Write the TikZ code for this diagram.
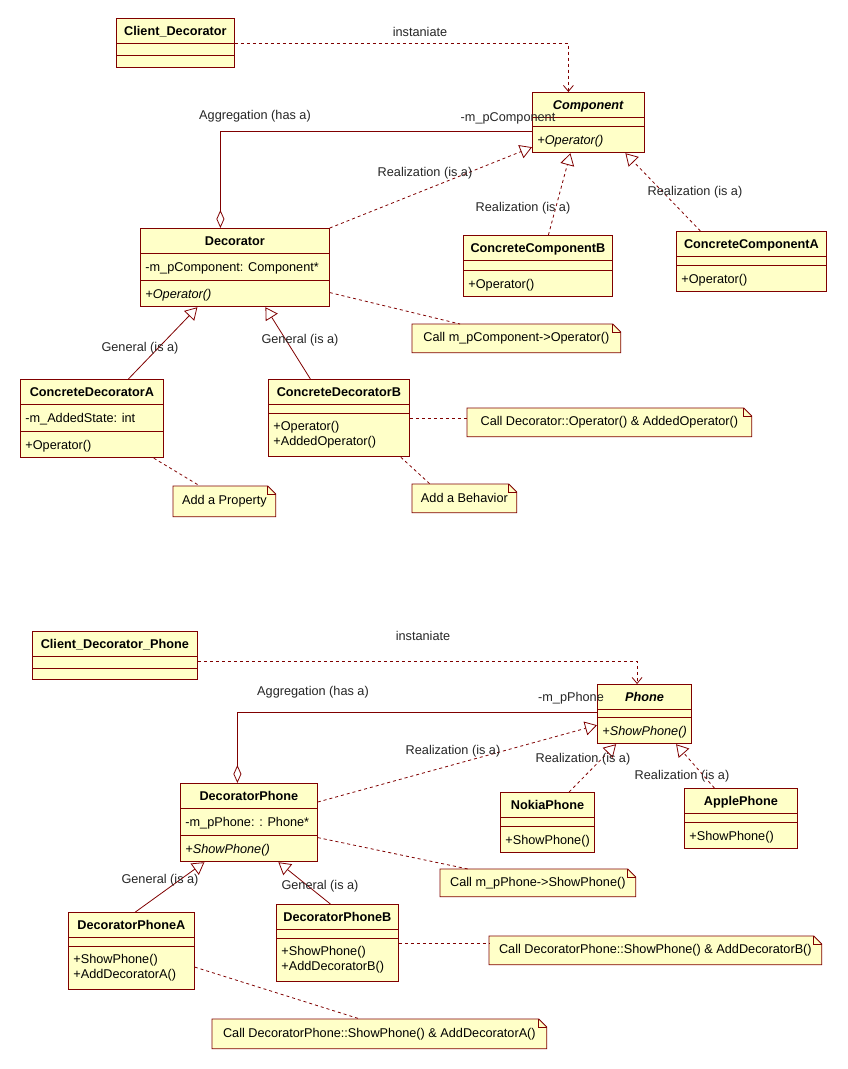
\documentclass[tikz,border=0pt]{standalone}
\usepackage{fontspec}
\setmainfont{Liberation Sans}
\usetikzlibrary{arrows.meta,shapes.multipart}

\definecolor{umlfill}{RGB}{255,255,200}
\definecolor{umlline}{RGB}{128,0,0}

% compartments of a class box
\newcommand{\cname}[1]{\rule[-7pt]{0pt}{24pt}\textbf{#1}}
\newcommand{\cempty}[1]{\rule{0pt}{#1}}
\newcommand{\cop}[1]{\rule[-8pt]{0pt}{26pt}#1}
\newcommand{\cops}[2]{\rule[-26pt]{0pt}{43pt}\begin{tabular}[t]{@{}l@{}}#1\\#2\end{tabular}}

\begin{document}
\begin{tikzpicture}[x=1pt, y=-1pt, line width=0.8pt, font=\fontsize{12.7}{15}\selectfont,
  umlclass/.style={rectangle split, rectangle split parts=3, draw=umlline, fill=umlfill,
    rectangle split part align={center,left,left}, inner xsep=5pt, inner ysep=0pt, anchor=north west},
  umlnote/.style={anchor=north west, inner xsep=5pt, inner ysep=0pt,
    append after command={\pgfextra{\begin{pgfinterruptpath}
      \draw[draw=umlline, fill=umlfill] (\tikzlastnode.north west) -- ([xshift=-8pt]\tikzlastnode.north east)
        -- ([yshift=-8pt]\tikzlastnode.north east) -- (\tikzlastnode.south east) -- (\tikzlastnode.south west) -- cycle;
      \draw[draw=umlline] ([xshift=-8pt]\tikzlastnode.north east) |- ([yshift=-8pt]\tikzlastnode.north east);
    \end{pgfinterruptpath}}}},
  lbl/.style={inner sep=1pt, text=black!85},
  link/.style={draw=umlline, dash pattern=on 3pt off 3pt},
  dep/.style={link, -{Straight Barb[length=6pt, width=10pt]}},
  real/.style={link, -{Triangle[open, length=12pt, width=14pt]}},
  gen/.style={draw=umlline, -{Triangle[open, length=12pt, width=14pt]}},
  agg/.style={draw=umlline, -{Diamond[open, length=18pt, width=8pt]}}]
\useasboundingbox[fill=white] (0,0) rectangle (847,1069);

%% Decorator pattern
\node[umlclass, minimum width=118pt] (cliDec) at (116,18) {\cname{Client\_Decorator}\nodepart{two}\cempty{11pt}\nodepart{three}\cempty{12pt}};
\node[umlclass, minimum width=112pt] (comp) at (532,92) {\cname{\textit{Component}}\nodepart{two}\cempty{8pt}\nodepart{three}\cop{\textit{+Operator()}}};
\node[umlclass, minimum width=189pt] (dec) at (140,228) {\cname{Decorator}\nodepart{two}\cop{-m\_pComponent: Component*}\nodepart{three}\cop{\textit{+Operator()}}};
\node[umlclass, minimum width=149pt] (ccB) at (463,235) {\cname{ConcreteComponentB}\nodepart{two}\cempty{9pt}\nodepart{three}\cop{+Operator()}};
\node[umlclass, minimum width=150pt] (ccA) at (676,231) {\cname{ConcreteComponentA}\nodepart{two}\cempty{8pt}\nodepart{three}\cop{+Operator()}};
\node[umlclass, minimum width=143pt] (cdA) at (20,379) {\cname{ConcreteDecoratorA}\nodepart{two}\cop{-m\_AddedState: int}\nodepart{three}\cop{+Operator()}};
\node[umlclass, minimum width=141pt] (cdB) at (268,379) {\cname{ConcreteDecoratorB}\nodepart{two}\cempty{8pt}\nodepart{three}\cops{+Operator()}{+AddedOperator()}};

\node[umlnote, minimum width=208pt, minimum height=28pt] (n1) at (412,324) {Call m\_pComponent->Operator()};
\node[umlnote, minimum width=284pt, minimum height=28pt] (n2) at (467,408) {Call Decorator::Operator() \& AddedOperator()};
\node[umlnote, minimum width=102pt, minimum height=30pt] (n3) at (173,486) {Add a Property};
\node[umlnote, minimum width=104pt, minimum height=28pt] (n4) at (412,484) {Add a Behavior};

\draw[dep] (cliDec.east) -| ([xshift=-20pt]comp.north);
\draw[agg] ([yshift=-8.5pt]comp.west) -| ([xshift=-14.5pt]dec.north);
\draw[real] (dec.north east) -- ([yshift=6pt]comp.south west);
\draw[real] ([xshift=10.5pt]ccB.north) -- ([xshift=-18pt]comp.south);
\draw[real] ([xshift=-51pt]ccA.north) -- ([xshift=37pt]comp.south);
\draw[gen] ([xshift=36.5pt]cdA.north) -- ([xshift=-37.5pt]dec.south);
\draw[gen] ([xshift=-28.5pt]cdB.north) -- ([xshift=30.5pt]dec.south);
\draw[link] ([yshift=-25pt]dec.east) -- ([xshift=48pt]n1.north west);
\draw[link] (cdB.east) -- (cdB.east -| n2.west);
\draw[link] ([xshift=-10pt]cdA.south east) -- ([xshift=27pt]n3.north west);
\draw[link] ([xshift=-9pt]cdB.south east) -- ([xshift=18pt]n4.north west);

\node[lbl] (instTop) at (420,32) {instaniate};
\node[lbl] (aggTop) at (255,116) {Aggregation (has a)};
\node[lbl] (roleTop) at (508,118) {-m\_pComponent};
\node[lbl] (realDec) at (425,173) {Realization (is a)};
\node[lbl] (realB) at (523,208) {Realization (is a)};
\node[lbl] (realA) at (695,192) {Realization (is a)};
\node[lbl] (genA) at (140,348) {General (is a)};
\node[lbl] (genB) at (300,340) {General (is a)};

%% Phone example
\node[umlclass, minimum width=165pt] (cliPhone) at (32,631) {\cname{Client\_Decorator\_Phone}\nodepart{two}\cempty{11pt}\nodepart{three}\cempty{11pt}};
\node[umlclass, minimum width=93pt] (phone) at (597,684) {\cname{\textit{Phone}}\nodepart{two}\cempty{7pt}\nodepart{three}\cop{\textit{+ShowPhone()}}};
\node[umlclass, minimum width=137pt] (decPhone) at (180,783) {\cname{DecoratorPhone}\nodepart{two}\cop{-m\_pPhone: : Phone*}\nodepart{three}\cop{\textit{+ShowPhone()}}};
\node[umlclass, minimum width=93pt] (nokia) at (500,792) {\cname{NokiaPhone}\nodepart{two}\cempty{8pt}\nodepart{three}\cop{+ShowPhone()}};
\node[umlclass, minimum width=113pt] (apple) at (684,788) {\cname{ApplePhone}\nodepart{two}\cempty{8pt}\nodepart{three}\cop{+ShowPhone()}};
\node[umlclass, minimum width=126pt] (dpA) at (68,912) {\cname{DecoratorPhoneA}\nodepart{two}\cempty{8pt}\nodepart{three}\cops{+ShowPhone()}{+AddDecoratorA()}};
\node[umlclass, minimum width=122pt] (dpB) at (276,904) {\cname{DecoratorPhoneB}\nodepart{two}\cempty{8pt}\nodepart{three}\cops{+ShowPhone()}{+AddDecoratorB()}};

\node[umlnote, minimum width=195pt, minimum height=27pt] (n5) at (440,869) {Call m\_pPhone->ShowPhone()};
\node[umlnote, minimum width=332pt, minimum height=28pt] (n6) at (489,936) {Call DecoratorPhone::ShowPhone() \& AddDecoratorB()};
\node[umlnote, minimum width=334pt, minimum height=29pt] (n7) at (212,1019) {Call DecoratorPhone::ShowPhone() \& AddDecoratorA()};

\draw[dep] ([yshift=-6pt]cliPhone.east) -| ([xshift=-7.5pt]phone.north);
\draw[agg] ([yshift=1.5pt]phone.west) -| ([xshift=-11.5pt]decPhone.north);
\draw[real] ([yshift=-19pt]decPhone.north east) -- ([yshift=19pt]phone.south west);
\draw[real] ([xshift=21.5pt]nokia.north) -- ([xshift=-28.5pt]phone.south);
\draw[real] ([xshift=-26.5pt]apple.north) -- ([xshift=31.5pt]phone.south);
\draw[gen] ([xshift=4pt]dpA.north) -- ([xshift=-44.5pt]decPhone.south);
\draw[gen] ([xshift=-7pt]dpB.north) -- ([xshift=29.5pt]decPhone.south);
\draw[link] ([yshift=-15pt]decPhone.east) -- ([xshift=28pt]n5.north west);
\draw[link] (dpB.east) -- (dpB.east -| n6.west);
\draw[link] ([yshift=-16pt]dpA.east) -- ([xshift=148pt]n7.north west);

\node[lbl] (instBot) at (423,636) {instaniate};
\node[lbl] (aggBot) at (313,692) {Aggregation (has a)};
\node[lbl] (roleBot) at (571,698) {-m\_pPhone};
\node[lbl] (realDP) at (453,751) {Realization (is a)};
\node[lbl] (realN) at (583,759) {Realization (is a)};
\node[lbl] (realAp) at (682,776) {Realization (is a)};
\node[lbl] (genPA) at (160,880) {General (is a)};
\node[lbl] (genPB) at (320,886) {General (is a)};
\end{tikzpicture}
\end{document}
